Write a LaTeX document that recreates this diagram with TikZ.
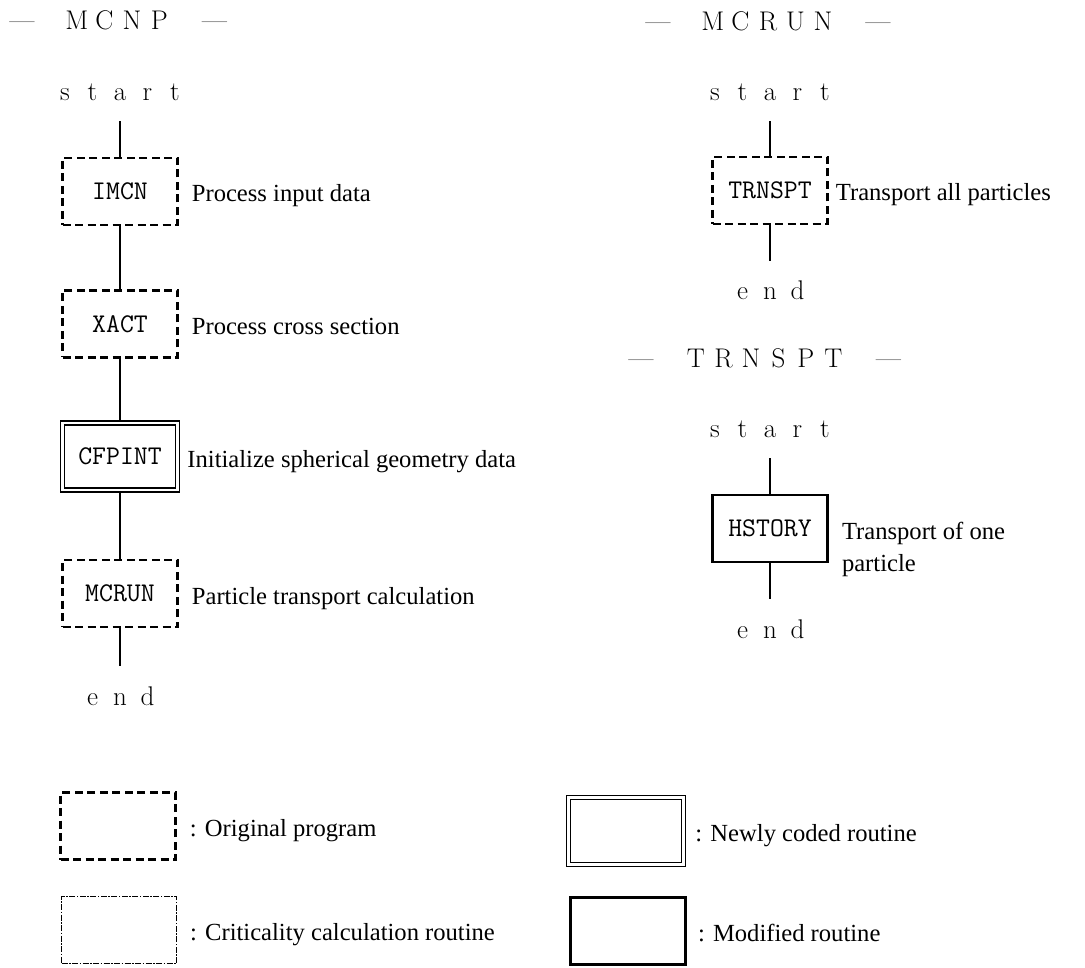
\documentclass[tikz,border=0pt]{standalone}
\usepackage{fontspec}
\usepackage{tikz}
\usetikzlibrary{positioning}
\newfontfamily\descfont{Liberation Serif}
\newcommand{\lettercell}[1]{\makebox[27.5pt]{#1}}

\begin{document}
\begin{tikzpicture}[x=1pt,y=-1pt,
      node distance=13pt,
      routine/.style={minimum width=115pt,minimum height=67pt,inner sep=0pt,font=\ttfamily\fontsize{27}{30}\selectfont},
      original/.style={routine,draw,line width=2.4pt,dash pattern=on 8pt off 4.5pt},
      critical/.style={routine,draw,line width=0.9pt,dash pattern=on 6pt off 1.5pt on 1.5pt off 1.5pt},
      newcode/.style={routine,draw,double,line width=1.5pt,double distance=2.5pt},
      modified/.style={routine,draw,line width=2.6pt},
      desc/.style={font=\descfont\fontsize{24.6}{32}\selectfont,inner sep=0pt,align=left},
      note/.style={desc,text height=21pt,text depth=0pt},
      term/.style={font=\fontsize{27}{30}\selectfont,inner sep=0pt,outer ysep=20pt,anchor=base},
      title/.style={font=\fontsize{27}{30}\selectfont,inner sep=0pt,anchor=base west},
      link/.style={line width=1.2pt}
    ]
    \useasboundingbox (0,0) rectangle (1085,968);

    % MCNP
    \node[title] (mcnptitle) at (8,30) {\lettercell{—}\lettercell{}\lettercell{M}\lettercell{C}\lettercell{N}\lettercell{P}\lettercell{}\lettercell{—}};
    \node[term] (start) at (120,101) {\lettercell{s}\lettercell{t}\lettercell{a}\lettercell{r}\lettercell{t}};
    \node[original] (imcn) at (120,191.5) {IMCN};
    \node[original] (xact) at (120,324) {XACT};
    \node[newcode] (cfpint) at (120,456.5) {CFPINT};
    \node[original] (mcrun) at (120,593.5) {MCRUN};
    \node[term] (end) at (120,705) {\lettercell{e}\lettercell{n}\lettercell{d}};
    \node[note,right=13pt of imcn] (imcnnote) {Process input data};
    \node[note,right=13pt of xact] (xactnote) {Process cross section};
    \node[note,right=9pt of cfpint] (cfpintnote) {Initialize spherical geometry data};
    \node[note,right=13pt of mcrun] (mcrunnote) {Particle transport calculation};
    \draw[link] (start)--(imcn);
    \draw[link] (imcn)--(xact);
    \draw[link] (xact)--(cfpint);
    \draw[link] (cfpint)--(mcrun);
    \draw[link] (mcrun)--(end);

    % MCRUN
    \node[title] (mcruntitle) at (644,31) {\lettercell{—}\lettercell{}\lettercell{M}\lettercell{C}\lettercell{R}\lettercell{U}\lettercell{N}\lettercell{}\lettercell{—}};
    \node[term] (runstart) at (770,101) {\lettercell{s}\lettercell{t}\lettercell{a}\lettercell{r}\lettercell{t}};
    \node[original] (trnspt) at (770,190.5) {TRNSPT};
    \node[term] (runend) at (770,300) {\lettercell{e}\lettercell{n}\lettercell{d}};
    \node[note,right=7pt of trnspt] (trnsptnote) {Transport all particles};
    \draw[link] (runstart)--(trnspt);
    \draw[link] (trnspt)--(runend);

    % TRNSPT
    \node[title] (trnspttitle) at (627,368) {\lettercell{—}\lettercell{}\lettercell{T}\lettercell{R}\lettercell{N}\lettercell{S}\lettercell{P}\lettercell{T}\lettercell{}\lettercell{—}};
    \node[term] (trnstart) at (770,438) {\lettercell{s}\lettercell{t}\lettercell{a}\lettercell{r}\lettercell{t}};
    \node[modified] (hstory) at (770,528.5) {HSTORY};
    \node[term] (trnend) at (770,638) {\lettercell{e}\lettercell{n}\lettercell{d}};
    \node[desc,right=13pt of hstory.east,anchor=north west,yshift=7pt] (hstorynote) {Transport of one\\particle};
    \draw[link] (trnstart)--(hstory);
    \draw[link] (hstory)--(trnend);

    % legend
    \node[original] (legorig) at (118,826) {};
    \node[critical] (legcrit) at (119,930) {};
    \node[newcode] (legnew) at (626,831) {};
    \node[modified] (legmod) at (628,931) {};
    \node[note,right=13pt of legorig] (legorignote) {: Original program};
    \node[note,right=13pt of legcrit] (legcritnote) {: Criticality calculation routine};
    \node[note,right=11pt of legnew] (legnewnote) {: Newly coded routine};
    \node[note,right=11pt of legmod] (legmodnote) {: Modified routine};
  \end{tikzpicture}
\end{document}
